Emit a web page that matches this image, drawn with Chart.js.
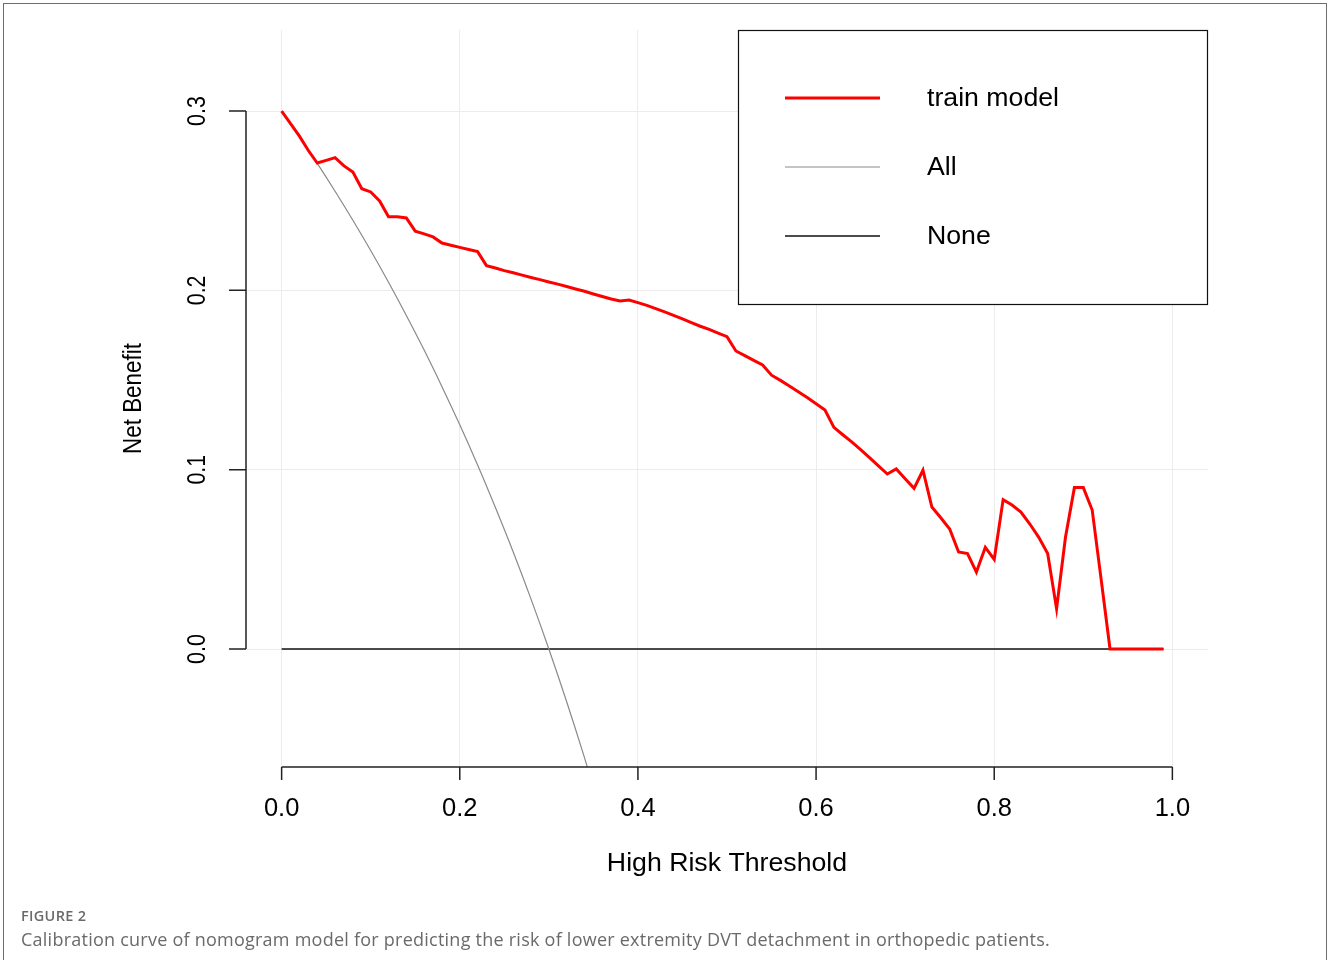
<!DOCTYPE html>
<html>
<head>
<meta charset="utf-8">
<title>Decision curve</title>
<script src="https://cdn.jsdelivr.net/npm/chart.js@4.4.0/dist/chart.umd.min.js"></script>
<style>
  html, body { margin: 0; padding: 0; background: #fff; overflow: hidden; }
  #frame { position: absolute; left: 3px; top: 3px; width: 1324px; height: 1000px;
           border: 1px solid #6e6e6e; box-sizing: border-box; }
  #wrap { position: absolute; left: 0; top: 0; width: 1330px; height: 960px; }
  .fig { position: absolute; left: 21px; top: 909px; font-family: "Open Sans", sans-serif;
         font-weight: 600; font-size: 14.5px; line-height: 14.5px; letter-spacing: 0.3px; color: #6a6a6a; }
  .cap { position: absolute; left: 21px; top: 930px; font-family: "Open Sans", sans-serif;
         font-size: 18px; line-height: 18px; letter-spacing: 0.24px; color: #6a6a6a; white-space: nowrap; }
</style>
</head>
<body>
<div id="frame"></div>
<div id="wrap"><canvas id="dca"></canvas></div>
<div class="fig">FIGURE 2</div>
<div class="cap">Calibration curve of nomogram model for predicting the risk of lower extremity DVT detachment in orthopedic patients.</div>
<script>
// threshold probabilities and net benefit of the model
var modelX = [0.00, 0.01, 0.02, 0.03, 0.04, 0.05, 0.06, 0.07, 0.08, 0.09,
              0.10, 0.11, 0.12, 0.13, 0.14, 0.15, 0.16, 0.17, 0.18, 0.19,
              0.20, 0.21, 0.22, 0.23, 0.24, 0.25, 0.26, 0.27, 0.28, 0.29,
              0.30, 0.31, 0.32, 0.33, 0.34, 0.35, 0.36, 0.37, 0.38, 0.39,
              0.40, 0.41, 0.42, 0.43, 0.44, 0.45, 0.46, 0.47, 0.48, 0.49,
              0.50, 0.51, 0.52, 0.53, 0.54, 0.55, 0.56, 0.57, 0.58, 0.59,
              0.60, 0.61, 0.62, 0.63, 0.64, 0.65, 0.66, 0.67, 0.68, 0.69,
              0.70, 0.71, 0.72, 0.73, 0.74, 0.75, 0.76, 0.77, 0.78, 0.79,
              0.80, 0.81, 0.82, 0.83, 0.84, 0.85, 0.86, 0.87, 0.88, 0.89,
              0.90, 0.91, 0.92, 0.93, 0.94, 0.95, 0.96, 0.97, 0.98, 0.99];
var modelNB = [0.300, 0.293, 0.286, 0.278, 0.271, 0.2725, 0.274, 0.2694, 0.266, 0.2567,
               0.2549, 0.2499, 0.2411, 0.2411, 0.2404, 0.2330, 0.2315, 0.2298, 0.2264, 0.2252,
               0.2240, 0.2228, 0.2216, 0.2138, 0.2125, 0.2110, 0.2098, 0.2085, 0.2072, 0.2060,
               0.2047, 0.2035, 0.2022, 0.2008, 0.1995, 0.1980, 0.1966, 0.1952, 0.1941, 0.1946,
               0.1932, 0.1916, 0.1898, 0.1880, 0.1861, 0.1841, 0.1820, 0.1800, 0.1782, 0.1762,
               0.1742, 0.1662, 0.1636, 0.1610, 0.1584, 0.1527, 0.1498, 0.1467, 0.1435, 0.1402,
               0.1368, 0.1333, 0.1236, 0.1195, 0.1155, 0.1112, 0.1067, 0.1021, 0.0976, 0.1004,
               0.0950, 0.0896, 0.0997, 0.0792, 0.0732, 0.0669, 0.0541, 0.0532, 0.0429, 0.0567,
               0.0500, 0.0833, 0.0803, 0.0764, 0.0697, 0.0623, 0.0532, 0.0225, 0.0623, 0.0900,
               0.0900, 0.0775, 0.0390, 0.0000, 0.0000, 0.0000, 0.0000, 0.0000, 0.0000, 0.0000];

// treat-all curve
var allX = [0.00, 0.02, 0.04, 0.06, 0.08, 0.10, 0.12, 0.14, 0.16, 0.18,
            0.20, 0.22, 0.24, 0.26, 0.28, 0.30, 0.32, 0.34, 0.36];
var allNB = [0.300, 0.2857, 0.2708, 0.2553, 0.2391, 0.2222, 0.2045, 0.1860, 0.1667, 0.1463,
             0.1250, 0.1026, 0.0789, 0.0541, 0.0278, 0.0000, -0.0294, -0.0606, -0.0938];

// treat-none line
var noneX = [0.00, 0.99];
var noneNB = [0, 0];

var xTicks = [0, 0.2, 0.4, 0.6, 0.8, 1.0];
var xTickLabels = ['0.0', '0.2', '0.4', '0.6', '0.8', '1.0'];
var yTicks = [0, 0.1, 0.2, 0.3];
var yTickLabels = ['0.0', '0.1', '0.2', '0.3'];

function pts(xs, ys) {
  return xs.map(function(v, i) { return {x: v, y: ys[i]}; });
}

var tickFont = '25.5px "Liberation Sans", Arial, sans-serif';
var textFont = '26.7px "Liberation Sans", Arial, sans-serif';

// rotated text comes out narrower in the original figure
function vText(ctx, txt, x, y) {
  ctx.save();
  ctx.translate(x, y);
  ctx.rotate(-Math.PI / 2);
  ctx.scale(0.84, 1);
  ctx.fillText(txt, 0, 0);
  ctx.restore();
}

// R style axes drawn from the chart's own scales
var rAxes = {
  id: 'rAxes',
  afterDraw: function(chart) {
    var ctx = chart.ctx, a = chart.chartArea;
    var xs = chart.scales.x, ys = chart.scales.y;
    ctx.save();
    ctx.strokeStyle = '#222';
    ctx.lineWidth = 1.5;
    ctx.beginPath();
    ctx.moveTo(xs.getPixelForValue(xTicks[0]), a.bottom);
    ctx.lineTo(xs.getPixelForValue(xTicks[xTicks.length - 1]), a.bottom);
    xTicks.forEach(function(v) {
      var px = xs.getPixelForValue(v);
      ctx.moveTo(px, a.bottom);
      ctx.lineTo(px, a.bottom + 13);
    });
    ctx.moveTo(a.left, ys.getPixelForValue(yTicks[0]));
    ctx.lineTo(a.left, ys.getPixelForValue(yTicks[yTicks.length - 1]));
    yTicks.forEach(function(v) {
      var py = ys.getPixelForValue(v);
      ctx.moveTo(a.left, py);
      ctx.lineTo(a.left - 17, py);
    });
    ctx.stroke();

    ctx.fillStyle = '#000';
    ctx.font = tickFont;
    ctx.textAlign = 'center';
    ctx.textBaseline = 'middle';
    xTicks.forEach(function(v, i) {
      ctx.fillText(xTickLabels[i], xs.getPixelForValue(v), a.bottom + 42);
    });
    yTicks.forEach(function(v, i) {
      vText(ctx, yTickLabels[i], 198, ys.getPixelForValue(v));
    });
    ctx.font = textFont;
    ctx.fillText('High Risk Threshold', (a.left + a.right) / 2, 864);
    vText(ctx, 'Net Benefit', 134, (a.top + a.bottom) / 2);
    ctx.restore();
  }
};

// boxed legend in the top right corner, like legend("topright")
var boxLegend = {
  id: 'boxLegend',
  afterDraw: function(chart) {
    var ctx = chart.ctx, a = chart.chartArea;
    var w = 470, h = 275;
    var left = a.right - w, top = a.top;
    ctx.save();
    ctx.fillStyle = '#fff';
    ctx.fillRect(left, top, w, h);
    ctx.strokeStyle = '#111';
    ctx.lineWidth = 1.2;
    ctx.strokeRect(left + 0.5, top + 0.5, w - 1, h - 1);
    ctx.font = textFont;
    ctx.textAlign = 'left';
    ctx.textBaseline = 'middle';
    chart.data.datasets.forEach(function(ds, i) {
      var yy = top + 68 + i * 69;
      ctx.strokeStyle = ds.borderColor;
      ctx.lineWidth = ds.borderWidth;
      ctx.beginPath();
      ctx.moveTo(left + 47, yy);
      ctx.lineTo(left + 142, yy);
      ctx.stroke();
      ctx.fillStyle = '#000';
      ctx.fillText(ds.label, left + 189, yy + 1);
    });
    ctx.restore();
  }
};

var ctx = document.getElementById('dca');
window.dcaChart = new Chart(ctx, {
  type: 'line',
  data: {
    datasets: [{
      label: 'train model',
      data: pts(modelX, modelNB),
      borderColor: '#ff0000',
      borderWidth: 3,
      pointRadius: 0,
      tension: 0
    }, {
      label: 'All',
      data: pts(allX, allNB),
      borderColor: '#8a8a8a',
      borderWidth: 1.2,
      pointRadius: 0,
      cubicInterpolationMode: 'monotone'
    }, {
      label: 'None',
      data: pts(noneX, noneNB),
      borderColor: '#111111',
      borderWidth: 1.5,
      pointRadius: 0
    }]
  },
  options: {
    responsive: true,
    maintainAspectRatio: false,
    animation: false,
    layout: { padding: { left: 246, top: 30, right: 122, bottom: 193 } },
    plugins: {
      legend: { display: false },
      tooltip: { enabled: false }
    },
    scales: {
      x: {
        type: 'linear',
        min: -0.04,
        max: 1.04,
        border: { display: false },
        grid: { color: '#ececec', lineWidth: 1, drawTicks: false },
        ticks: { display: false, stepSize: 0.2, includeBounds: false }
      },
      y: {
        type: 'linear',
        min: -0.0658,
        max: 0.3452,
        border: { display: false },
        grid: { color: '#ececec', lineWidth: 1, drawTicks: false },
        ticks: { display: false, stepSize: 0.1, includeBounds: false }
      }
    }
  },
  plugins: [rAxes, boxLegend]
});
</script>
</body>
</html>
